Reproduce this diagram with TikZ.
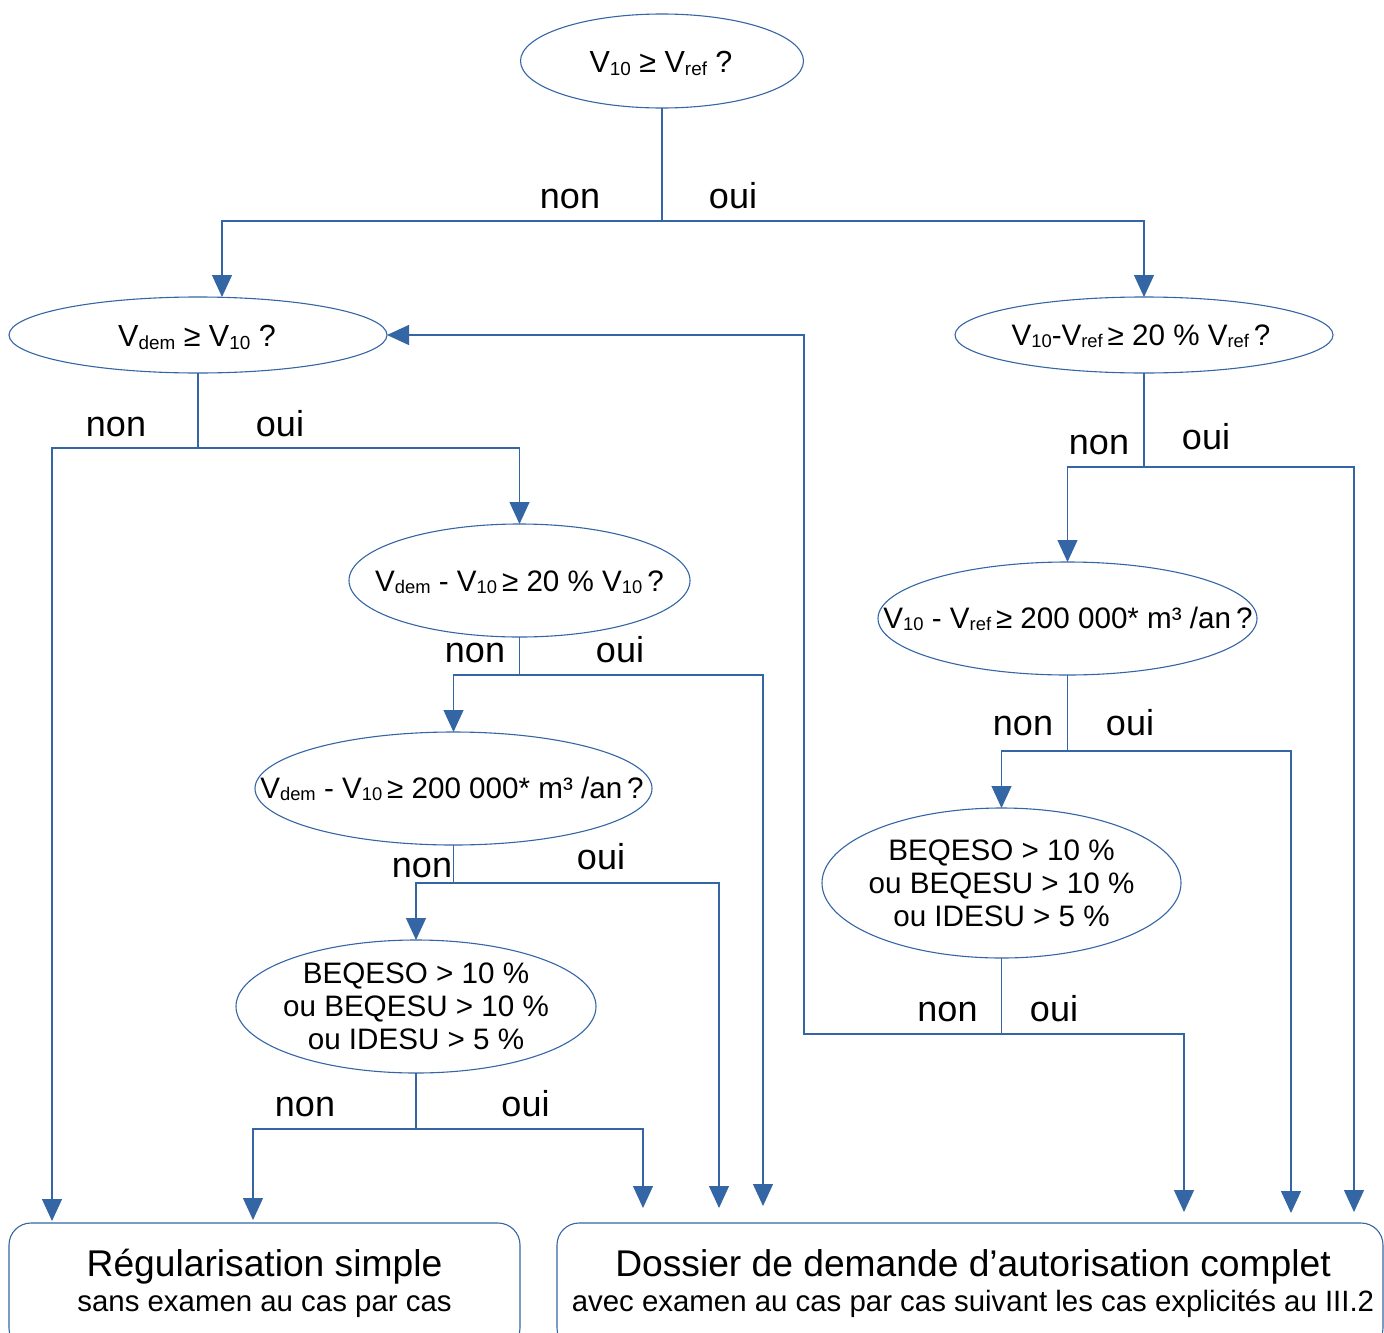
\documentclass[tikz,border=0pt]{standalone}
\usepackage{fontspec}
\setmainfont{Liberation Sans}
\usepackage{tikz}
\usetikzlibrary{arrows.meta,shapes.geometric}
\definecolor{lnb}{HTML}{3465A4}
\newcommand{\idx}[1]{\raisebox{-0.08em}{\scalebox{0.62}{#1}}}

\begin{document}
\begin{tikzpicture}[x=1pt,y=-1pt]
            \tikzstyle{every node}=[inner sep=0pt,outer sep=0pt]
            \tikzstyle{quest}=[draw=lnb,line width=1.1pt,ellipse]
            \tikzstyle{qtxt}=[anchor=base,font=\fontsize{29.6}{33}\selectfont]
            \tikzstyle{fin}=[draw=lnb,line width=1.1pt,rectangle,rounded corners=22pt,anchor=north west]
            \tikzstyle{titre}=[anchor=base,font=\fontsize{37.2}{40}\selectfont]
            \tikzstyle{soustitre}=[anchor=base,font=\fontsize{29.4}{33}\selectfont]
            \tikzstyle{lbl}=[anchor=base,font=\fontsize{36}{40}\selectfont]
            \tikzstyle{lien}=[draw=lnb,line width=1.2pt]
            \tikzstyle{arr}=[lien,-{Triangle[width=20pt,length=22pt]}]
            \useasboundingbox (0,0) rectangle (1384,1333);
            \clip (0,0) rectangle (1384,1333);
            % questions
            \node[quest,minimum width=283pt,minimum height=94pt] (e1) at (662,61) {};
            \node[quest,minimum width=378pt,minimum height=76pt] (e2) at (198,335) {};
            \node[quest,minimum width=378pt,minimum height=76pt] (e3) at (1144,335) {};
            \node[quest,minimum width=341pt,minimum height=113pt] (e4) at (519.5,580.5) {};
            \node[quest,minimum width=379pt,minimum height=113pt] (e5) at (1067.5,618.5) {};
            \node[quest,minimum width=397pt,minimum height=113pt] (e6) at (453.5,788.5) {};
            \node[quest,minimum width=359pt,minimum height=150pt] (e7) at (1001.5,883) {};
            \node[quest,minimum width=360pt,minimum height=133pt] (e8) at (416,1006.5) {};
            \node[qtxt,font=\fontsize{30.5}{33}\selectfont] (t1) at (661,72.7) {V\idx{10} ≥ V\idx{ref} ?};
            \node[qtxt,font=\fontsize{30.5}{33}\selectfont] (t2) at (197,346.7) {V\idx{dem} ≥ V\idx{10} ?};
            \node[qtxt] (t3) at (1141,345) {V\idx{10}-V\idx{ref}\,≥ 20 \% V\idx{ref}\,?};
            \node[qtxt] (t4) at (519.5,591) {V\idx{dem} - V\idx{10}\,≥ 20 \% V\idx{10}\,?};
            \node[qtxt] (t5) at (1068,628.3) {V\idx{10} - V\idx{ref}\,≥ 200 000* m³ /an\,?};
            \node[qtxt] (t6) at (452,798.3) {V\idx{dem} - V\idx{10}\,≥ 200 000* m³ /an\,?};
            \node[qtxt,anchor=center,align=center] (t7) at (e7.center) {BEQESO > 10 \%\\ou BEQESU > 10 \%\\ou IDESU > 5 \%};
            \node[qtxt,anchor=center,align=center] (t8) at (e8.center) {BEQESO > 10 \%\\ou BEQESU > 10 \%\\ou IDESU > 5 \%};
            % issues
            \node[fin,minimum width=511pt,minimum height=127pt] (regul) at (9,1223) {};
            \node[fin,minimum width=826pt,minimum height=127pt] (dossier) at (557,1223) {};
            \node[titre] (regula) at (264.5,1276.7) {Régularisation simple};
            \node[soustitre] (regulb) at (264.5,1311.7) {sans examen au cas par cas};
            \node[titre] (dossiera) at (973,1276.7) {Dossier de demande d’autorisation complet};
            \node[soustitre] (dossierb) at (973,1311.7) {avec examen au cas par cas suivant les cas explicités au III.2};
            % embranchements
            \coordinate (j1) at (662,221);
            \coordinate (j2) at (198,448);
            \coordinate (j3) at (1144,467);
            \coordinate (j4) at (519.5,675);
            \coordinate (j5) at (1067.5,751);
            \coordinate (j6) at (453.5,883);
            \coordinate (j7) at (416,1129);
            \coordinate (j8) at (1001.5,1034);
            \coordinate (j9) at (804,335);
            \coordinate (k1) at (52,1221);
            \coordinate (k2) at (1354,1212);
            \coordinate (k3) at (763,1206);
            \coordinate (k4) at (1291,1213);
            \coordinate (k5) at (719,1208);
            \coordinate (k6) at (253,1220);
            \coordinate (k7) at (643,1208);
            \coordinate (k8) at (1184,1212);
            \draw[lien] (e1) -- (j1);
            \draw[arr] (j1) -| ([xshift=24pt]e2.north);
            \draw[arr] (j1) -| (e3.north);
            \draw[lien] (e2) -- (j2);
            \draw[arr] (j2) -| (k1);
            \draw[arr] (j2) -| (e4.north);
            \draw[lien] (e3) -- (j3);
            \draw[arr] (j3) -| (e5.north);
            \draw[arr] (j3) -| (k2);
            \draw[lien] (e4) -- (j4);
            \draw[arr] (j4) -| (e6.north);
            \draw[arr] (j4) -| (k3);
            \draw[lien] (e5) -- (j5);
            \draw[arr] (j5) -| (e7.north);
            \draw[arr] (j5) -| (k4);
            \draw[lien] (e6) -- (j6);
            \draw[arr] (j6) -| (e8.north);
            \draw[arr] (j6) -| (k5);
            \draw[lien] (e8) -- (j7);
            \draw[arr] (j7) -| (k6);
            \draw[arr] (j7) -| (k7);
            \draw[lien] (e7) -- (j8);
            \draw[arr] (j8) -| (k8);
            \draw[arr] (j8) -| (j9) -- (e2.east);
            % non / oui
            \node[lbl] (n1) at (570,208.3) {non};
            \node[lbl] (o1) at (733,208.3) {oui};
            \node[lbl] (n2) at (116,436) {non};
            \node[lbl] (o2) at (280,436) {oui};
            \node[lbl] (n3) at (1099,454) {non};
            \node[lbl] (o3) at (1206,449) {oui};
            \node[lbl] (n4) at (475,662) {non};
            \node[lbl] (o4) at (620,662) {oui};
            \node[lbl] (n5) at (1023,735) {non};
            \node[lbl] (o5) at (1130,735) {oui};
            \node[lbl] (n6) at (422,877) {non};
            \node[lbl] (o6) at (601,869) {oui};
            \node[lbl] (n7) at (947.5,1021) {non};
            \node[lbl] (o7) at (1054,1021) {oui};
            \node[lbl] (n8) at (305,1116) {non};
            \node[lbl] (o8) at (525.5,1116) {oui};
\end{tikzpicture}
\end{document}
